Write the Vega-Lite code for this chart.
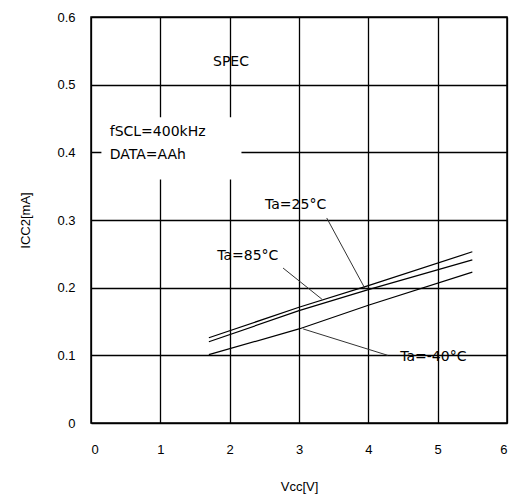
{
  "$schema": "https://vega.github.io/schema/vega-lite/v6.json",
  "autosize": "none",
  "width": 416,
  "height": 406,
  "padding": {"left": 91, "top": 17, "right": 6, "bottom": 76},
  "background": "white",
  "config": {
    "font": "Liberation Sans",
    "view": {"stroke": "black", "strokeWidth": 1.5},
    "axis": {
      "gridColor": "black",
      "gridWidth": 1.3,
      "gridOpacity": 1,
      "domain": false,
      "ticks": false,
      "labelColor": "black",
      "titleColor": "black",
      "labelFont": "Liberation Sans",
      "titleFont": "Liberation Sans",
      "labelFontSize": 13,
      "titleFontSize": 13,
      "titleFontWeight": "normal"
    }
  },
  "datasets": {
    "curves": [
      {"vcc": 1.7, "icc": 0.126, "ta": "85"},
      {"vcc": 3.0, "icc": 0.171, "ta": "85"},
      {"vcc": 4.0, "icc": 0.203, "ta": "85"},
      {"vcc": 5.5, "icc": 0.253, "ta": "85"},
      {"vcc": 1.7, "icc": 0.120, "ta": "25"},
      {"vcc": 3.0, "icc": 0.166, "ta": "25"},
      {"vcc": 4.0, "icc": 0.197, "ta": "25"},
      {"vcc": 5.5, "icc": 0.241, "ta": "25"},
      {"vcc": 1.7, "icc": 0.101, "ta": "-40"},
      {"vcc": 3.0, "icc": 0.139, "ta": "-40"},
      {"vcc": 4.0, "icc": 0.174, "ta": "-40"},
      {"vcc": 5.5, "icc": 0.223, "ta": "-40"}
    ],
    "leaders": [
      {"x": 3.40, "y": 0.303, "x2": 3.95, "y2": 0.199},
      {"x": 2.77, "y": 0.229, "x2": 3.33, "y2": 0.183},
      {"x": 3.06, "y": 0.139, "x2": 4.28, "y2": 0.100}
    ],
    "labels": [
      {"x": 1.76, "y": 0.533, "text": "SPEC"},
      {"x": 2.51, "y": 0.322, "text": "Ta=25°C"},
      {"x": 1.82, "y": 0.247, "text": "Ta=85°C"},
      {"x": 4.46, "y": 0.0975, "text": "Ta=-40°C"},
      {"x": 0.27, "y": 0.430, "text": "fSCL=400kHz"},
      {"x": 0.27, "y": 0.396, "text": "DATA=AAh"}
    ],
    "box": [{"x": 0.15, "x2": 2.17, "y": 0.36, "y2": 0.452}]
  },
  "layer": [
    {
      "data": {"name": "box"},
      "mark": {"type": "rect", "fill": "white", "stroke": null},
      "encoding": {
        "x": {"field": "x", "type": "quantitative", "scale": {"domain": [0, 6]},
              "axis": {"title": "Vcc[V]", "values": [0,1,2,3,4,5,6], "format": "d", "grid": true, "labelPadding": 20, "titlePadding": 24}},
        "x2": {"field": "x2"},
        "y": {"field": "y", "type": "quantitative", "scale": {"domain": [0, 0.6]},
              "axis": {"title": "ICC2[mA]", "values": [0,0.1,0.2,0.3,0.4,0.5,0.6], "grid": true, "labelPadding": 16, "titlePadding": 24,
                       "labelExpr": "datum.value == 0 ? '0' : format(datum.value, '.1f')"}},
        "y2": {"field": "y2"}
      }
    },
    {
      "data": {"name": "curves"},
      "mark": {"type": "line", "color": "black", "strokeWidth": 1.2},
      "encoding": {
        "x": {"field": "vcc", "type": "quantitative"},
        "y": {"field": "icc", "type": "quantitative"},
        "detail": {"field": "ta"}
      }
    },
    {
      "data": {"name": "leaders"},
      "mark": {"type": "rule", "color": "#333333", "strokeWidth": 1},
      "encoding": {
        "x": {"field": "x", "type": "quantitative"},
        "y": {"field": "y", "type": "quantitative"},
        "x2": {"field": "x2"},
        "y2": {"field": "y2"}
      }
    },
    {
      "data": {"name": "labels"},
      "mark": {"type": "text", "font": "DejaVu Sans", "fontSize": 14, "color": "black", "baseline": "middle", "align": "left"},
      "encoding": {
        "x": {"field": "x", "type": "quantitative"},
        "y": {"field": "y", "type": "quantitative"},
        "text": {"field": "text"}
      }
    }
  ]
}
